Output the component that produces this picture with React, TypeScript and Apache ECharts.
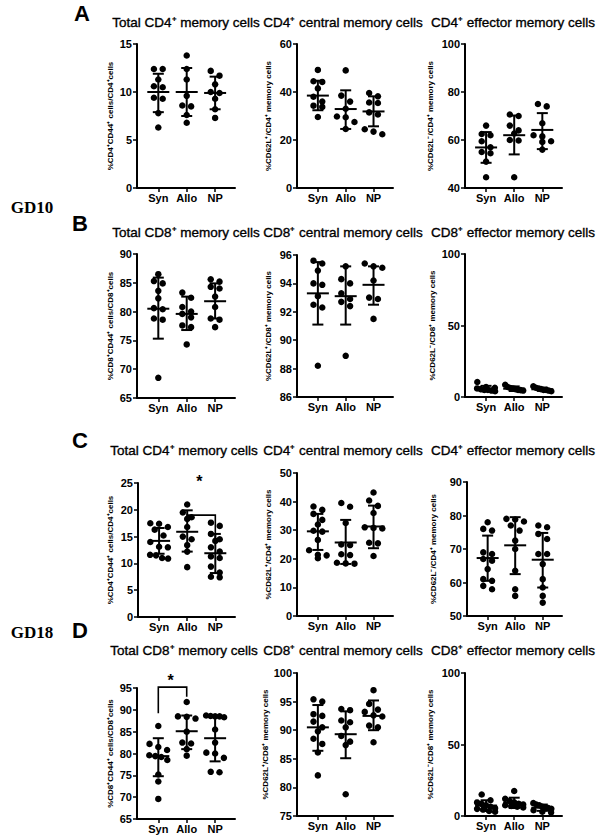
import React, { useEffect, useRef } from 'react';
import * as echarts from 'echarts';

const FONT = '"Liberation Sans", Arial, Helvetica, sans-serif';
const SERIF = '"Liberation Serif", "Times New Roman", serif';

const groups = ['Syn', 'Allo', 'NP'];

// ---- Panel A (GD10, CD4) ----
const A1_points = [
  [12.4, 12.4, 11.3, 10.6, 10.5, 9.4, 9.3, 7.8, 6.3],
  [13.8, 12.4, 11.3, 9.6, 8.6, 8.5, 7.6, 6.8],
  [12.2, 11.7, 10.8, 10.0, 9.9, 9.3, 8.2, 7.3],
];
const A1_mean = [10.0, 10.0, 9.9];
const A1_low = [7.9, 7.5, 8.2];
const A1_high = [11.9, 12.5, 11.6];

const A2_points = [
  [49.2, 44.5, 44.2, 41.5, 38.0, 36.0, 34.3, 33.8, 29.6],
  [49.0, 38.5, 36.0, 33.0, 29.8, 29.5, 27.5, 24.6],
  [39.6, 38.2, 35.6, 35.4, 31.5, 30.6, 24.5, 23.5, 22.4],
];
const A2_mean = [38.5, 32.9, 31.9];
const A2_low = [32.4, 24.6, 25.7];
const A2_high = [44.7, 40.7, 38.2];

const A3_points = [
  [66.0, 62.5, 62.0, 59.5, 57.0, 55.0, 54.5, 51.0, 44.5],
  [70.6, 70.0, 66.0, 64.0, 62.7, 60.0, 59.8, 44.5],
  [75.0, 74.0, 67.0, 62.0, 61.5, 59.5, 59.2, 56.0],
];
const A3_mean = [56.9, 62.0, 64.2];
const A3_low = [50.5, 54.0, 56.2];
const A3_high = [63.3, 70.2, 71.2];

// ---- Panel B (GD10, CD8) ----
const B1_points = [
  [86.5, 85.3, 84.9, 83.6, 82.3, 80.6, 80.4, 78.8, 78.6, 68.5],
  [83.3, 82.4, 80.8, 80.0, 79.6, 79.0, 77.6, 77.3, 74.3],
  [85.6, 85.2, 84.3, 84.0, 82.6, 80.8, 78.8, 78.6, 77.3],
];
const B1_mean = [80.5, 79.6, 81.8];
const B1_low = [75.3, 76.8, 78.8];
const B1_high = [85.9, 82.6, 84.9];

const B2_points = [
  [95.6, 95.4, 94.9, 94.0, 93.9, 93.1, 92.5, 92.3, 88.2],
  [95.2, 94.3, 94.0, 93.3, 92.9, 92.7, 92.4, 88.9],
  [95.4, 95.2, 95.1, 94.2, 93.0, 92.9, 91.5],
];
const B2_mean = [93.3, 93.1, 93.9];
const B2_low = [91.1, 91.1, 92.5];
const B2_high = [95.5, 95.2, 95.2];

const B3_points = [
  [10.5, 7.0, 6.5, 6.0, 5.5, 5.0, 5.0, 4.5, 4.0],
  [8.6, 7.0, 6.3, 6.0, 5.5, 5.0, 4.8, 4.5],
  [7.5, 6.5, 6.0, 5.5, 5.0, 5.0, 4.5, 4.0],
];
const B3_mean = [5.9, 5.8, 5.4];
const B3_low = [4.0, 4.2, 4.3];
const B3_high = [7.8, 7.4, 6.5];

// ---- Panel C (GD18, CD4) ----
const C1_points = [
  [17.5, 17.4, 16.8, 16.3, 15.2, 14.0, 13.1, 13.0, 11.6, 11.5, 11.0, 10.9],
  [21.0, 19.5, 18.6, 18.3, 16.8, 15.0, 14.5, 13.4, 12.2, 9.3],
  [17.6, 17.0, 15.5, 14.5, 14.2, 13.0, 12.2, 11.3, 11.0, 9.4, 8.3, 7.5, 7.4],
];
const C1_mean = [14.2, 15.9, 11.9];
const C1_low = [11.8, 12.2, 8.2];
const C1_high = [16.6, 19.9, 15.5];
// [x from, x to, bracket top, left leg end, right leg end, star]
const C1_sig = [1, 2, 19.0, 17.8, 14.0, 25.9];

const C2_points = [
  [38.3, 37.1, 35.7, 33.6, 32.0, 29.8, 29.5, 26.6, 23.0, 21.4, 21.2, 20.2],
  [39.5, 38.2, 32.5, 25.0, 24.8, 21.6, 21.3, 18.6, 18.4, 18.3],
  [43.2, 40.4, 38.5, 36.0, 31.0, 30.8, 30.6, 25.6, 25.4, 21.0],
];
const C2_mean = [29.6, 25.7, 31.3];
const C2_low = [23.1, 18.2, 23.7];
const C2_high = [35.7, 33.6, 38.6];

const C3_points = [
  [78.0, 76.0, 75.5, 69.0, 68.5, 67.0, 66.5, 64.0, 61.0, 60.5, 59.0, 58.0],
  [79.0, 78.8, 78.2, 77.0, 75.5, 72.5, 70.0, 63.5, 58.0, 56.0],
  [77.0, 76.5, 74.5, 73.0, 68.5, 68.5, 65.5, 61.0, 58.5, 56.0, 54.0],
];
const C3_mean = [67.3, 71.1, 66.8];
const C3_low = [60.5, 62.5, 58.5];
const C3_high = [74.0, 79.5, 74.8];

// ---- Panel D (GD18, CD8) ----
const D1_points = [
  [86.3, 82.2, 81.5, 80.8, 79.6, 79.4, 79.2, 78.5, 75.2, 73.6, 69.6],
  [91.8, 88.5, 88.4, 88.0, 85.0, 82.5, 82.3, 81.0, 79.5],
  [88.7, 88.6, 88.5, 88.5, 88.3, 85.5, 82.5, 80.2, 80.0, 79.0, 75.8, 75.7],
];
const D1_mean = [79.4, 85.1, 83.5];
const D1_low = [74.8, 81.0, 78.2];
const D1_high = [83.5, 88.7, 88.7];
const D1_sig = [0, 1, 95.2, 89.2, 93.0, 97.5];

const D2_points = [
  [95.4, 95.0, 92.8, 92.5, 91.5, 90.5, 89.8, 88.5, 87.6, 86.1, 82.1],
  [93.7, 93.5, 91.7, 91.4, 90.5, 89.0, 88.0, 87.4, 78.8],
  [97.0, 94.6, 93.6, 93.2, 92.6, 92.4, 90.8, 90.5, 87.9],
];
const D2_mean = [90.5, 89.3, 92.5];
const D2_low = [86.4, 85.1, 90.0];
const D2_high = [94.4, 93.3, 95.2];

const D3_points = [
  [15.0, 11.0, 9.5, 8.5, 7.5, 6.5, 5.5, 5.0, 4.5, 3.5, 3.0],
  [17.5, 12.0, 10.5, 9.5, 8.5, 8.0, 7.5, 7.0, 6.5, 6.0],
  [9.0, 8.0, 7.5, 6.5, 6.0, 5.5, 5.0, 4.0, 3.0, 2.5],
];
const D3_mean = [7.3, 9.2, 5.8];
const D3_low = [3.5, 5.6, 3.6];
const D3_high = [11.0, 12.8, 8.0];

// ---- texts ----
const titlesCD4 = ['Total CD4⁺ memory cells', 'CD4⁺ central memory cells', 'CD4⁺ effector memory cells'];
const titlesCD8 = ['Total CD8⁺ memory cells', 'CD8⁺ central memory cells', 'CD8⁺ effector memory cells'];
const yNamesCD4 = ['%CD4⁺CD44⁺ cells/CD4⁺cells', '%CD62L⁺/CD4⁺ memory cells', '%CD62L⁻/CD4⁺ memory cells'];
const yNamesCD8 = ['%CD8⁺CD44⁺ cells/CD8⁺cells', '%CD62L⁺/CD8⁺ memory cells', '%CD62L⁻/CD8⁺ memory cells'];

const yAxisA1 = [0, 15, 5];
const yAxisA2 = [0, 60, 20];
const yAxisA3 = [40, 100, 20];
const yAxisB1 = [65, 90, 5];
const yAxisB2 = [86, 96, 2];
const yAxisB3 = [0, 100, 50];
const yAxisC1 = [0, 25, 5];
const yAxisC2 = [0, 50, 10];
const yAxisC3 = [50, 90, 10];
const yAxisD1 = [65, 95, 5];
const yAxisD2 = [75, 100, 5];
const yAxisD3 = [0, 100, 50];

// layout
const X_MIN = -0.75;
const X_MAX = 2.7;
const DOT = 6.5;

type Panel = {
  pts: number[][]; mean: number[]; low: number[]; high: number[];
  y: number[]; yName: string; title: string;
  left: number; top: number; width: number; height: number; nameGap: number;
  titleX: number; titleY: number; sig?: number[];
};

const panels: Panel[] = [
  { pts: A1_points, mean: A1_mean, low: A1_low, high: A1_high, y: yAxisA1, yName: yNamesCD4[0], title: titlesCD4[0], left: 137, top: 44, width: 98, height: 144, nameGap: 23, titleX: 186, titleY: 22 },
  { pts: A2_points, mean: A2_mean, low: A2_low, high: A2_high, y: yAxisA2, yName: yNamesCD4[1], title: titlesCD4[1], left: 297, top: 44, width: 96, height: 144, nameGap: 25, titleX: 343, titleY: 22 },
  { pts: A3_points, mean: A3_mean, low: A3_low, high: A3_high, y: yAxisA3, yName: yNamesCD4[2], title: titlesCD4[2], left: 465, top: 44, width: 97, height: 144, nameGap: 31, titleX: 513, titleY: 22 },
  { pts: B1_points, mean: B1_mean, low: B1_low, high: B1_high, y: yAxisB1, yName: yNamesCD8[0], title: titlesCD8[0], left: 137, top: 254, width: 98, height: 144, nameGap: 23, titleX: 186, titleY: 232 },
  { pts: B2_points, mean: B2_mean, low: B2_low, high: B2_high, y: yAxisB2, yName: yNamesCD8[1], title: titlesCD8[1], left: 297, top: 255, width: 96, height: 142, nameGap: 25, titleX: 343, titleY: 232 },
  { pts: B3_points, mean: B3_mean, low: B3_low, high: B3_high, y: yAxisB3, yName: yNamesCD8[2], title: titlesCD8[2], left: 465, top: 254, width: 97, height: 143, nameGap: 29, titleX: 513, titleY: 232 },
  { pts: C1_points, mean: C1_mean, low: C1_low, high: C1_high, y: yAxisC1, yName: yNamesCD4[0], title: titlesCD4[0], left: 138, top: 483, width: 97, height: 134, nameGap: 24, titleX: 184, titleY: 450, sig: C1_sig },
  { pts: C2_points, mean: C2_mean, low: C2_low, high: C2_high, y: yAxisC2, yName: yNamesCD4[1], title: titlesCD4[1], left: 297, top: 473, width: 96, height: 143, nameGap: 25, titleX: 343, titleY: 450 },
  { pts: C3_points, mean: C3_mean, low: C3_low, high: C3_high, y: yAxisC3, yName: yNamesCD4[2], title: titlesCD4[2], left: 467, top: 482, width: 95, height: 134, nameGap: 30, titleX: 513, titleY: 450 },
  { pts: D1_points, mean: D1_mean, low: D1_low, high: D1_high, y: yAxisD1, yName: yNamesCD8[0], title: titlesCD8[0], left: 137, top: 688, width: 98, height: 131, nameGap: 23, titleX: 184, titleY: 650, sig: D1_sig },
  { pts: D2_points, mean: D2_mean, low: D2_low, high: D2_high, y: yAxisD2, yName: yNamesCD8[1], title: titlesCD8[1], left: 297, top: 673, width: 96, height: 143, nameGap: 26, titleX: 343, titleY: 650 },
  { pts: D3_points, mean: D3_mean, low: D3_low, high: D3_high, y: yAxisD3, yName: yNamesCD8[2], title: titlesCD8[2], left: 465, top: 673, width: 97, height: 143, nameGap: 31, titleX: 513, titleY: 650 },
];

// beeswarm-like placement: values closer than a dot in pixels are spread sideways
function swarm(vals: number[], cat: number, pxX: number, pxY: number): number[][] {
  const s = [...vals].sort((a, b) => b - a);
  const out: number[][] = [];
  let i = 0;
  while (i < s.length) {
    let j = i + 1;
    while (j < s.length && (s[i] - s[j]) * pxY < DOT * 0.95) j++;
    const n = j - i;
    const gap = n > 1 ? Math.min(DOT * 1.35, 18 / (n - 1)) : 0;
    for (let k = 0; k < n; k++) {
      const off = (k - (n - 1) / 2) * gap;
      out.push([cat + off / pxX, s[i + k]]);
    }
    i = j;
  }
  return out;
}

function errorBarRender(params: any, api: any) {
  const x = api.value(0);
  const pm = api.coord([x, api.value(1)]);
  const pl = api.coord([x, api.value(2)]);
  const ph = api.coord([x, api.value(3)]);
  const st = { stroke: '#000', lineWidth: 2 };
  const capW = 5.5;
  const meanW = 11;
  return {
    type: 'group',
    children: [
      { type: 'line', shape: { x1: pl[0], y1: pl[1], x2: ph[0], y2: ph[1] }, style: st },
      { type: 'line', shape: { x1: pl[0] - capW, y1: pl[1], x2: pl[0] + capW, y2: pl[1] }, style: st },
      { type: 'line', shape: { x1: ph[0] - capW, y1: ph[1], x2: ph[0] + capW, y2: ph[1] }, style: st },
      { type: 'line', shape: { x1: pm[0] - meanW, y1: pm[1], x2: pm[0] + meanW, y2: pm[1] }, style: st },
    ],
  };
}

function sigRender(params: any, api: any) {
  const x1 = api.value(0), x2 = api.value(1);
  const top = api.value(2), l = api.value(3), r = api.value(4), star = api.value(5);
  const a = api.coord([x1, l]);
  const b = api.coord([x1, top]);
  const c = api.coord([x2, top]);
  const d = api.coord([x2, r]);
  const s = api.coord([(x1 + x2) / 2, star]);
  return {
    type: 'group',
    children: [
      { type: 'polyline', shape: { points: [a, b, c, d] }, style: { stroke: '#000', lineWidth: 1.6, fill: 'none' } },
      { type: 'text', x: s[0] - 2, y: s[1] + 3, style: { text: '*', fill: '#000', font: 'bold 16px ' + FONT, textAlign: 'center', textVerticalAlign: 'middle' } },
    ],
  };
}

function buildOption() {
  const grid: any[] = [];
  const xAxis: any[] = [];
  const yAxis: any[] = [];
  const series: any[] = [];
  const graphic: any[] = [];

  panels.forEach((p, i) => {
    grid.push({ left: p.left, top: p.top, width: p.width, height: p.height, containLabel: false });
    xAxis.push({
      type: 'value', gridIndex: i, min: X_MIN, max: X_MAX,
      splitLine: { show: false },
      axisLine: { show: true, onZero: false, lineStyle: { color: '#000', width: 2 } },
      axisTick: { show: true, customValues: [0, 1, 2], length: 4, lineStyle: { color: '#000', width: 1.5 } },
      axisLabel: {
        show: true, customValues: [0, 1, 2],
        formatter: (v: number) => groups[Math.round(v)] ?? '',
        color: '#000', fontSize: 11, fontWeight: 'bold', fontFamily: FONT, margin: 4,
      },
    });
    yAxis.push({
      type: 'value', gridIndex: i, min: p.y[0], max: p.y[1], interval: p.y[2],
      name: p.yName, nameLocation: 'middle', nameRotate: 90, nameGap: p.nameGap,
      nameTextStyle: { color: '#000', fontSize: 8, fontWeight: 'bold', fontFamily: FONT },
      splitLine: { show: false },
      axisLine: { show: true, onZero: false, lineStyle: { color: '#000', width: 2 } },
      axisTick: { show: true, length: 4, lineStyle: { color: '#000', width: 1.5 } },
      axisLabel: { color: '#000', fontSize: 11, fontWeight: 'bold', fontFamily: FONT, margin: 5 },
    });
    const pxX = p.width / (X_MAX - X_MIN);
    const pxY = p.height / (p.y[1] - p.y[0]);
    const dots: number[][] = [];
    p.pts.forEach((vals, g) => dots.push(...swarm(vals, g, pxX, pxY)));
    series.push({
      type: 'scatter', xAxisIndex: i, yAxisIndex: i, data: dots,
      symbol: 'circle', symbolSize: DOT, itemStyle: { color: '#000', opacity: 1 }, clip: false, silent: true, z: 2,
    });
    series.push({
      type: 'custom', xAxisIndex: i, yAxisIndex: i,
      data: p.mean.map((m, g) => [g, m, p.low[g], p.high[g]]),
      renderItem: errorBarRender, encode: { x: 0, y: [1, 2, 3] }, silent: true, z: 3,
    });
    if (p.sig) {
      series.push({
        type: 'custom', xAxisIndex: i, yAxisIndex: i, data: [p.sig],
        renderItem: sigRender, encode: { x: [0, 1], y: [2, 3, 4] }, silent: true, clip: false, z: 4,
      });
    }
    graphic.push({
      type: 'text', x: p.titleX, y: p.titleY,
      style: {
        text: p.title, fill: '#000', stroke: '#000', lineWidth: 0.35,
        font: '13.5px ' + FONT, textAlign: 'center', textVerticalAlign: 'middle',
      },
    });
  });

  const letters = [['A', 82, 13], ['B', 80, 223], ['C', 80, 440], ['D', 80, 630]];
  letters.forEach(([t, x, y]) => {
    graphic.push({ type: 'text', x, y, style: { text: t, fill: '#000', font: 'bold 22px ' + FONT, textAlign: 'center', textVerticalAlign: 'middle' } });
  });
  const groupsLabels = [['GD10', 32, 207], ['GD18', 32, 632]];
  groupsLabels.forEach(([t, x, y]) => {
    graphic.push({ type: 'text', x, y, style: { text: t, fill: '#000', font: 'bold 17px ' + SERIF, textAlign: 'center', textVerticalAlign: 'middle' } });
  });

  return { animation: false, backgroundColor: '#fff', grid, xAxis, yAxis, series, graphic };
}

export default function App() {
  const ref = useRef<HTMLDivElement>(null);
  useEffect(() => {
    if (!ref.current) return;
    const chart = echarts.init(ref.current, null, { renderer: 'svg' });
    chart.setOption(buildOption() as any);
    return () => chart.dispose();
  }, []);
  return <div ref={ref} style={{ position: 'absolute', left: 0, top: 0, width: 600, height: 840, background: '#fff' }} />;
}
